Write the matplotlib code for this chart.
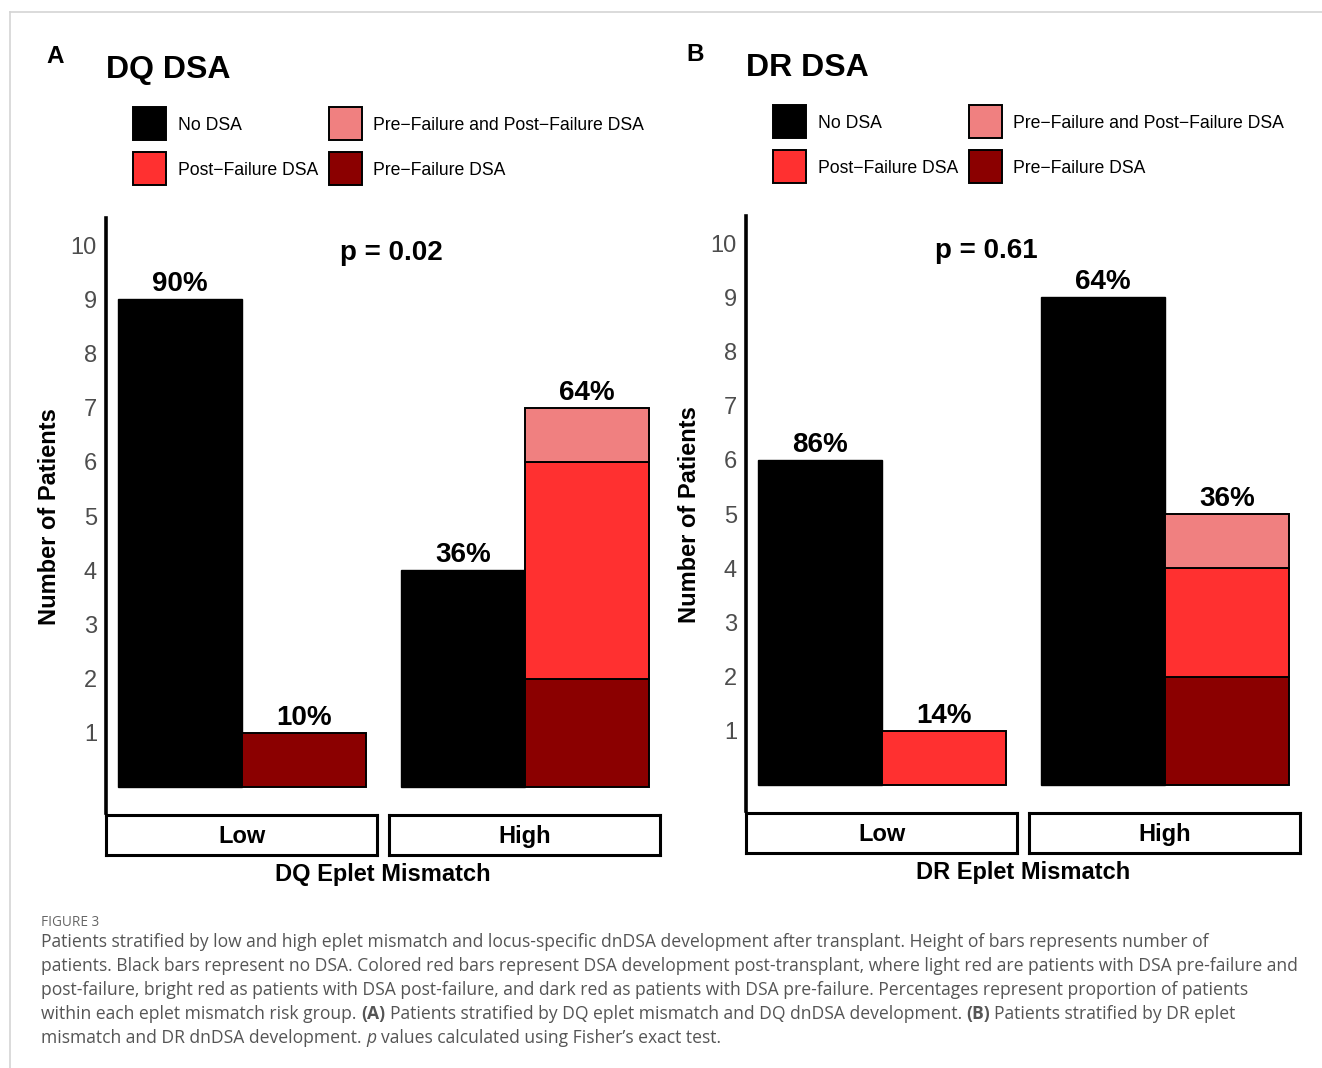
import matplotlib
matplotlib.use("Agg")
import matplotlib.pyplot as plt
from matplotlib.patches import Rectangle
from matplotlib.lines import Line2D

# ---------------- data ----------------
groups = ["Low", "High"]
legend_labels = ["No DSA", "Pre\u2212Failure and Post\u2212Failure DSA",
                 "Post\u2212Failure DSA", "Pre\u2212Failure DSA"]

dq_no_dsa = [9, 4]
dq_pre = [1, 2]
dq_post = [0, 4]
dq_both = [0, 1]
dq_pct_no = ["90%", "36%"]
dq_pct_dsa = ["10%", "64%"]
dq_p = "p = 0.02"

dr_no_dsa = [6, 9]
dr_pre = [0, 2]
dr_post = [1, 2]
dr_both = [0, 1]
dr_pct_no = ["86%", "64%"]
dr_pct_dsa = ["14%", "36%"]
dr_p = "p = 0.61"

yticks = list(range(1, 11))

caption_head = "FIGURE 3"
caption_lines = [
    [("Patients stratified by low and high eplet mismatch and locus-specific dnDSA development after transplant. Height of bars represents number of", "n")],
    [("patients. Black bars represent no DSA. Colored red bars represent DSA development post-transplant, where light red are patients with DSA pre-failure and", "n")],
    [("post-failure, bright red as patients with DSA post-failure, and dark red as patients with DSA pre-failure. Percentages represent proportion of patients", "n")],
    [("within each eplet mismatch risk group. ", "n"), ("(A)", "b"),
     (" Patients stratified by DQ eplet mismatch and DQ dnDSA development. ", "n"), ("(B)", "b"),
     (" Patients stratified by DR eplet", "n")],
    [("mismatch and DR dnDSA development. ", "n"), ("p", "i"),
     (" values calculated using Fisher\u2019s exact test.", "n")],
]

# ---------------- style ----------------
C_NO = "#000000"
C_BOTH = "#F08080"
C_POST = "#FF3030"
C_PRE = "#8B0000"

W, H = 1322, 1068
plt.rcParams["font.family"] = ["Liberation Sans", "DejaVu Sans"]
fig = plt.figure(figsize=(W / 100, H / 100), dpi=100)


def fx(x):
    return x / W


def fy(y):
    return 1 - y / H


def fbox(x0, y0, x1, y1):
    return [x0 / W, 1 - y1 / H, (x1 - x0) / W, (y1 - y0) / H]


# frame lines
fig.add_artist(Line2D([fx(10), 1], [fy(12), fy(12)], color="#d4d4d4", lw=1.2))
fig.add_artist(Line2D([fx(10), fx(10)], [fy(12), 0], color="#d4d4d4", lw=1.2))


def draw_panel(dx, dy, letter, title, no_dsa, pre, post, both, pct_no, pct_dsa,
               pval, p_x, p_y, xlabel):
    # letter and title
    fig.text(fx(46 + dx), fy(63 + dy), letter, fontsize=17.5, fontweight="bold",
             ha="left", va="baseline")
    fig.text(fx(106 + dx), fy(78 + dy), title, fontsize=23, fontweight="bold",
             ha="left", va="baseline")
    # legend
    cols = [(133, 178), (329, 373)]
    rows = [107, 152]
    entries = [(0, 0, C_NO, legend_labels[0]), (1, 0, C_BOTH, legend_labels[1]),
               (0, 1, C_POST, legend_labels[2]), (1, 1, C_PRE, legend_labels[3])]
    for ci, ri, col, lab in entries:
        kx, tx = cols[ci]
        ky = rows[ri]
        x0, y0 = kx + dx, ky + dy
        fig.add_artist(Rectangle((fx(x0), fy(y0 + 33)), 33 / W, 33 / H,
                                 transform=fig.transFigure, facecolor=col,
                                 edgecolor="black", lw=1.4))
        fig.text(fx(tx + dx), fy(y0 + 16.5 + 6.5), lab, fontsize=12.7,
                 ha="left", va="baseline")

    for i, g in enumerate(groups):
        x0 = 106 + dx + i * 283
        ax = fig.add_axes(fbox(x0, 218 + dy, x0 + 271, 813 + dy))
        ax.set_xlim(-0.597, 1.589)
        ax.set_ylim(-0.48, 10.5)
        ax.patch.set_alpha(0)
        for s in ["top", "right", "bottom"]:
            ax.spines[s].set_visible(False)
        ax.set_xticks([])
        if i == 0:
            ax.spines["left"].set_linewidth(2.6)
            ax.set_yticks(yticks)
            ax.set_yticklabels([str(t) for t in yticks], fontsize=17,
                               color="#4D4D4D")
            ax.tick_params(axis="y", length=0, pad=6.5)
        else:
            ax.spines["left"].set_visible(False)
            ax.set_yticks([])
        # bars
        ax.bar(0, no_dsa[i], width=1, color=C_NO, edgecolor="black", lw=1.0)
        bottom = 0
        for vals, col in [(pre, C_PRE), (post, C_POST), (both, C_BOTH)]:
            v = vals[i]
            if v > 0:
                ax.bar(1, v, width=1, bottom=bottom, color=col,
                       edgecolor="black", lw=1.4)
                bottom += v
        ax.annotate(pct_no[i], (0, no_dsa[i]), xytext=(0, 8),
                    textcoords="offset pixels", ha="center", va="baseline",
                    fontsize=20, fontweight="bold")
        ax.annotate(pct_dsa[i], (1, bottom), xytext=(0, 8),
                    textcoords="offset pixels", ha="center", va="baseline",
                    fontsize=20, fontweight="bold")
        # strip
        sax = fig.add_axes(fbox(x0, 815 + dy, x0 + 271, 855 + dy))
        sax.set_xticks([])
        sax.set_yticks([])
        for s in sax.spines.values():
            s.set_linewidth(2.2)
        sax.text(0.5, 0.29, g, transform=sax.transAxes, ha="center",
                 va="baseline", fontsize=17, fontweight="bold")

    # p value
    fig.text(fx(p_x), fy(p_y), pval, ha="center", va="baseline", fontsize=20,
             fontweight="bold")
    # axis titles
    fig.text(fx(383 + dx), fy(881 + dy), xlabel, ha="center", va="baseline",
             fontsize=17, fontweight="bold")
    fig.text(fx(50 + dx), fy(517 + dy), "Number of Patients", ha="center",
             va="center", rotation=90, fontsize=17, fontweight="bold")


draw_panel(0, 0, "A", "DQ DSA", dq_no_dsa, dq_pre, dq_post, dq_both,
           dq_pct_no, dq_pct_dsa, dq_p, 391, 260, "DQ Eplet Mismatch")
draw_panel(640, -2, "B", "DR DSA", dr_no_dsa, dr_pre, dr_post, dr_both,
           dr_pct_no, dr_pct_dsa, dr_p, 986, 258, "DR Eplet Mismatch")

# ---------------- caption ----------------
renderer = fig.canvas.get_renderer()
CAP_FONT = "Open Sans"
CAP_COLOR = "#555555"


def text_w(s, size, style):
    kw = dict(fontsize=size, family=[CAP_FONT, "DejaVu Sans"])
    if style == "b":
        kw["fontweight"] = "bold"
    if style == "i":
        kw["fontstyle"] = "italic"
    t = fig.text(0, 0, s, **kw)
    w = t.get_window_extent(renderer).width
    t.remove()
    return w


base = 12.0
w2 = text_w(caption_lines[1][0][0], base, "n")
cap_size = base * (1250 / w2)

fig.text(fx(41), fy(926), caption_head, fontsize=cap_size * 0.78,
         family=[CAP_FONT, "DejaVu Sans"], color="#666666", ha="left",
         va="baseline")

for li, segs in enumerate(caption_lines):
    yb = 947 + 24 * li
    x = 41.0
    for s, style in segs:
        sp_w = text_w("x x", cap_size, style) - text_w("xx", cap_size, style)
        lead = len(s) - len(s.lstrip(" "))
        trail = len(s) - len(s.rstrip(" "))
        core = s.strip(" ")
        x += lead * sp_w
        kw = dict(fontsize=cap_size, family=[CAP_FONT, "DejaVu Sans"],
                  color=CAP_COLOR, ha="left", va="baseline")
        if style == "b":
            kw["fontweight"] = "bold"
        if style == "i":
            kw["fontstyle"] = "italic"
        t = fig.text(fx(x), fy(yb), core, **kw)
        x += t.get_window_extent(renderer).width
        x += trail * sp_w

fig.savefig("out.png", dpi=100)
